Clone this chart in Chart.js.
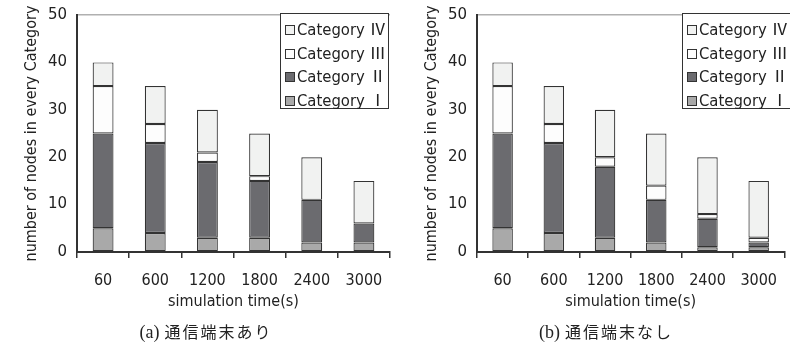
<!DOCTYPE html>
<html>
<head>
<meta charset="utf-8">
<script src="https://cdn.jsdelivr.net/npm/chart.js@4.4.1/dist/chart.umd.min.js"></script>
<style>
    body { margin: 0; background: #fff; width: 790px; height: 343px; overflow: hidden; position: relative; }
    .wrap { position: absolute; top: 0; height: 343px; }
    #wrapA { left: 0; width: 400px; }
    #wrapB { left: 400px; width: 390px; }
    .legend {
        position: absolute; top: 13px; height: 96px; width: 120px;
        border: 1px solid #333; background: #fff; box-sizing: border-box;
        font-family: "DejaVu Sans Condensed", "DejaVu Sans", sans-serif;
        font-size: 16.5px; color: #222;
    }
    #wrapA .legend { left: 280px; width: 109px; }
    #wrapB .legend { left: 282px; }
    .legend .row { position: absolute; left: 4px; height: 20px; line-height: 20px; white-space: nowrap; }
    .legend .sw { display: inline-block; width: 8px; height: 8px; border: 1px solid #333; vertical-align: 0px; margin-right: 2px; }
    .legend .num { font-family: "Noto Sans CJK JP", serif; line-height: 0; }
    .caption {
        position: absolute; top: 320px; width: 300px; text-align: center;
        font-size: 16px; color: #222; white-space: nowrap; line-height: 22px;
        font-family: "Noto Sans CJK JP", sans-serif; letter-spacing: 2px;
    }
    .caption .tag { font-family: "Liberation Serif", serif; font-size: 18px; letter-spacing: 0; margin-right: 5px; }
</style>
</head>
<body>
<div class="wrap" id="wrapA">
    <canvas id="chartA" width="400" height="343"></canvas>
    <div class="legend" id="legendA"></div>
</div>
<div class="wrap" id="wrapB">
    <canvas id="chartB" width="390" height="343"></canvas>
    <div class="legend" id="legendB"></div>
</div>
<div class="caption" style="left:56px"><span class="tag">(a)</span>通信端末あり</div>
<div class="caption" style="left:456px"><span class="tag">(b)</span>通信端末なし</div>

<script>
// 데이터
const timeLabels = ["60", "600", "1200", "1800", "2400", "3000"];
const seriesNames = ["Category", "Category", "Category", "Category"];
const seriesNumerals = ["Ⅰ", "Ⅱ", "Ⅲ", "Ⅳ"];
const seriesColors = ["#a9a9a9", "#6b6b6f", "#fdfdfd", "#f1f2f1"];
const yTicks = [0, 10, 20, 30, 40, 50];

// (a) 통신단말 있음
const withTermI = [5, 4, 3, 3, 2, 2];
const withTermII = [20, 19, 16, 12, 9, 4];
const withTermIII = [10, 4, 2, 1, 0, 0];
const withTermIV = [5, 8, 9, 9, 9, 9];

// (b) 통신단말 없음
const noTermI = [5, 4, 3, 2, 1, 1];
const noTermII = [20, 19, 15, 9, 6, 1];
const noTermIII = [10, 4, 2, 3, 1, 1];
const noTermIV = [5, 8, 10, 11, 12, 12];

const axisFont = '"DejaVu Sans Condensed", "DejaVu Sans", sans-serif';

function buildChart(canvasId, series, rightPad) {
    const ctx = document.getElementById(canvasId).getContext("2d");
    return new Chart(ctx, {
        type: "bar",
        data: {
            labels: timeLabels,
            datasets: series.map((values, i) => ({
                label: seriesNames[i] + " " + seriesNumerals[i],
                data: values,
                backgroundColor: seriesColors[i],
                borderColor: "#333",
                borderWidth: 1.2,
                borderSkipped: false,
                barPercentage: 0.4,
                categoryPercentage: 1
            }))
        },
        options: {
            responsive: false,
            animation: false,
            layout: { padding: { top: 15, right: rightPad, left: 0, bottom: 0 } },
            plugins: { legend: { display: false }, tooltip: { enabled: false } },
            scales: {
                x: {
                    stacked: true,
                    offset: true,
                    afterFit: s => { s.height = 91; },
                    grid: { offset: true, drawOnChartArea: false, tickLength: 6, color: "#333", lineWidth: 1.5 },
                    border: { display: true, color: "#333", width: 2 },
                    ticks: { color: "#222", padding: 13, maxRotation: 0, font: { family: axisFont, size: 16 } },
                    title: {
                        display: true, text: "simulation time(s)", color: "#222",
                        font: { family: axisFont, size: 16 }, padding: { top: 0, bottom: 32 }
                    }
                },
                y: {
                    stacked: true,
                    min: 0, max: 50,
                    afterFit: s => { s.width = 77; s.paddingTop = 0; s.paddingBottom = 0; },
                    afterBuildTicks: s => { s.ticks = yTicks.map(v => ({ value: v })); },
                    grid: {
                        drawTicks: false,
                        color: c => (c.tick && c.tick.value === 50 ? "#b0b0b0" : "rgba(0,0,0,0)"),
                        lineWidth: 1.5
                    },
                    border: { display: true, color: "#333", width: 2 },
                    ticks: { color: "#222", padding: 10, font: { family: '"DejaVu Sans", sans-serif', size: 15 } },
                    title: {
                        display: true, text: "number of nodes in every Category", color: "#222",
                        font: { family: axisFont, size: 16 }, padding: { top: 22, bottom: 0 }
                    }
                }
            }
        }
    });
}

function buildLegend(id) {
    const box = document.getElementById(id);
    // 범례는 위에서부터 IV, III, II, I 순서
    [3, 2, 1, 0].forEach((i, row) => {
        const el = document.createElement("div");
        el.className = "row";
        el.style.top = (6 + row * 23.5) + "px";
        el.innerHTML = `<span class="sw" style="background:${seriesColors[i]}"></span>${seriesNames[i]} <span class="num">${seriesNumerals[i]}</span>`;
        box.appendChild(el);
    });
}

buildChart("chartA", [withTermI, withTermII, withTermIII, withTermIV], 10);
buildChart("chartB", [noTermI, noTermII, noTermIII, noTermIV], 0);
buildLegend("legendA");
buildLegend("legendB");
</script>
</body>
</html>
